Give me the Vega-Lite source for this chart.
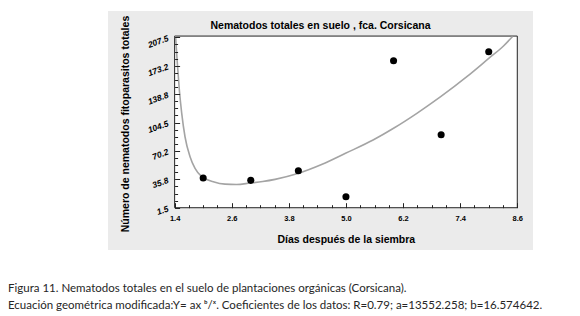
{
  "$schema": "https://vega.github.io/schema/vega-lite/v6.json",
  "background": "white",
  "padding": {"left": 8, "top": 11, "right": 0, "bottom": 0},
  "title": {
    "text": ["Figura 11. Nematodos totales en el suelo de plantaciones orgánicas (Corsicana).", "Ecuación geométrica modificada:Y= ax ᵇ/ˣ. Coeficientes de los datos: R=0.79; a=13552.258; b=16.574642."],
    "orient": "bottom", "anchor": "start", "dx": -100, "offset": 33,
    "font": "Lato", "fontSize": 11.5, "fontWeight": "normal", "color": "#262626", "lineHeight": 17, "baseline": "top"
  },
  "datasets": {
    "puntos": [
      {"x": 2, "y": 37.4},
      {"x": 3, "y": 34.6},
      {"x": 4, "y": 46.2},
      {"x": 5, "y": 14.8},
      {"x": 6, "y": 179.2},
      {"x": 7, "y": 89.7},
      {"x": 8, "y": 190.1}
    ],
    "curva": [
      {"x": 1.42, "y": 208.5},
      {"x": 1.457, "y": 176.1},
      {"x": 1.499, "y": 143.8},
      {"x": 1.549, "y": 115.6},
      {"x": 1.618, "y": 87.3},
      {"x": 1.724, "y": 63.2},
      {"x": 1.829, "y": 49.1},
      {"x": 1.969, "y": 39.0},
      {"x": 2.213, "y": 32.9},
      {"x": 2.46, "y": 30.0},
      {"x": 2.70, "y": 29.6},
      {"x": 2.98, "y": 31.3},
      {"x": 3.25, "y": 33.2},
      {"x": 3.51, "y": 35.8},
      {"x": 3.97, "y": 42.5},
      {"x": 4.5, "y": 54.0},
      {"x": 4.99, "y": 67.3},
      {"x": 5.57, "y": 83.3},
      {"x": 6.0, "y": 97.5},
      {"x": 6.49, "y": 115.6},
      {"x": 6.99, "y": 135.7},
      {"x": 7.54, "y": 159.9},
      {"x": 8.0, "y": 182.0},
      {"x": 8.31, "y": 197.0},
      {"x": 8.5, "y": 208.5}
    ]
  },
  "vconcat": [
    {
      "width": 425,
      "height": 239,
      "title": {
        "text": "Nematodos  totales en suelo , fca. Corsicana",
        "offset": -20, "anchor": "middle",
        "font": "Liberation Sans", "fontSize": 10.5, "fontWeight": "bold", "color": "black"
      },
      "layer": [
        {
          "data": {"values": [{}]},
          "mark": {"type": "rect", "fill": "white", "stroke": "#222222", "strokeWidth": 1},
          "encoding": {
            "x": {
              "datum": 1.4, "type": "quantitative",
              "scale": {"domain": [0, 8.93], "nice": false, "zero": false},
              "axis": {
                "title": "Días después de la siembra",
                "orient": "bottom", "offset": -42.3, "domain": false, "grid": false, "zindex": 1,
                "values": [1.4, 1.7, 2, 2.3, 2.6, 2.9, 3.2, 3.5, 3.8, 4.1, 4.4, 4.7, 5, 5.3, 5.6, 5.9, 6.2, 6.5, 6.8, 7.1, 7.4, 7.7, 8, 8.3, 8.6],
                "tickSize": {"condition": {"test": "indexof([1.4,2.6,3.8,5,6.2,7.4,8.6], datum.value) >= 0", "value": -5}, "value": -3},
                "tickColor": "#222222", "tickWidth": 1,
                "labelExpr": "indexof([1.4,2.6,3.8,5,6.2,7.4,8.6], datum.value) >= 0 ? format(datum.value, '.1f') : ''",
                "labelFont": "Liberation Sans", "labelFontSize": 7.5, "labelFontWeight": "bold", "labelColor": "black",
                "labelPadding": 11.6, "labelFlush": false, "labelOverlap": false,
                "titleFont": "Liberation Sans", "titleFontSize": 10.5, "titleFontWeight": "bold", "titleColor": "black",
                "titleX": 237.8, "titleY": 32, "titleBaseline": "middle", "titleAlign": "center"
              }
            },
            "x2": {"datum": 8.6},
            "y": {
              "datum": 1.5, "type": "quantitative",
              "scale": {"domain": [-49.6, 239.3], "nice": false, "zero": false},
              "axis": {
                "title": "Número de nematodos fitoparasitos totales",
                "orient": "left", "offset": -66.6, "domain": false, "grid": false, "zindex": 1,
                "values": [1.5, 10.08, 18.67, 27.25, 35.83, 44.42, 53, 61.58, 70.17, 78.75, 87.33, 95.92, 104.5, 113.08, 121.67, 130.25, 138.83, 147.42, 156, 164.58, 173.17, 181.75, 190.33, 198.92, 207.5],
                "tickSize": {"condition": {"test": "indexof([1.5,35.83,70.17,104.5,138.83,173.17,207.5], datum.value) >= 0", "value": -5}, "value": -3},
                "tickColor": "#222222", "tickWidth": 1,
                "labelExpr": "indexof([1.5,35.83,70.17,104.5,138.83,173.17,207.5], datum.value) >= 0 ? format(datum.value, '.1f') : ''",
                "labelFont": "Liberation Sans", "labelFontSize": 8.5, "labelFontWeight": "bold", "labelFontStyle": "italic", "labelColor": "black",
                "labelAngle": -20, "labelAlign": "right", "labelBaseline": "middle",
                "labelPadding": 12, "labelFlush": false, "labelOverlap": false,
                "titleFont": "Liberation Sans", "titleFontSize": 10.5, "titleFontWeight": "bold", "titleColor": "black",
                "titleX": -49.6, "titleY": 112.5, "titleAngle": -90, "titleBaseline": "middle", "titleAlign": "center"
              }
            },
            "y2": {"datum": 209}
          }
        },
        {
          "data": {"name": "curva"},
          "mark": {"type": "line", "color": "#a4a4a4", "strokeWidth": 1.6, "interpolate": "monotone"},
          "encoding": {
            "x": {
              "field": "x", "type": "quantitative",
              "scale": {"domain": [0, 8.93], "nice": false, "zero": false},
              "axis": {
                "title": "Días después de la siembra",
                "orient": "bottom", "offset": -42.3, "domain": false, "grid": false, "zindex": 1,
                "values": [1.4, 1.7, 2, 2.3, 2.6, 2.9, 3.2, 3.5, 3.8, 4.1, 4.4, 4.7, 5, 5.3, 5.6, 5.9, 6.2, 6.5, 6.8, 7.1, 7.4, 7.7, 8, 8.3, 8.6],
                "tickSize": {"condition": {"test": "indexof([1.4,2.6,3.8,5,6.2,7.4,8.6], datum.value) >= 0", "value": -5}, "value": -3},
                "tickColor": "#222222", "tickWidth": 1,
                "labelExpr": "indexof([1.4,2.6,3.8,5,6.2,7.4,8.6], datum.value) >= 0 ? format(datum.value, '.1f') : ''",
                "labelFont": "Liberation Sans", "labelFontSize": 7.5, "labelFontWeight": "bold", "labelColor": "black",
                "labelPadding": 11.6, "labelFlush": false, "labelOverlap": false,
                "titleFont": "Liberation Sans", "titleFontSize": 10.5, "titleFontWeight": "bold", "titleColor": "black",
                "titleX": 237.8, "titleY": 32, "titleBaseline": "middle", "titleAlign": "center"
              }
            },
            "y": {
              "field": "y", "type": "quantitative",
              "scale": {"domain": [-49.6, 239.3], "nice": false, "zero": false},
              "axis": {
                "title": "Número de nematodos fitoparasitos totales",
                "orient": "left", "offset": -66.6, "domain": false, "grid": false, "zindex": 1,
                "values": [1.5, 10.08, 18.67, 27.25, 35.83, 44.42, 53, 61.58, 70.17, 78.75, 87.33, 95.92, 104.5, 113.08, 121.67, 130.25, 138.83, 147.42, 156, 164.58, 173.17, 181.75, 190.33, 198.92, 207.5],
                "tickSize": {"condition": {"test": "indexof([1.5,35.83,70.17,104.5,138.83,173.17,207.5], datum.value) >= 0", "value": -5}, "value": -3},
                "tickColor": "#222222", "tickWidth": 1,
                "labelExpr": "indexof([1.5,35.83,70.17,104.5,138.83,173.17,207.5], datum.value) >= 0 ? format(datum.value, '.1f') : ''",
                "labelFont": "Liberation Sans", "labelFontSize": 8.5, "labelFontWeight": "bold", "labelFontStyle": "italic", "labelColor": "black",
                "labelAngle": -20, "labelAlign": "right", "labelBaseline": "middle",
                "labelPadding": 12, "labelFlush": false, "labelOverlap": false,
                "titleFont": "Liberation Sans", "titleFontSize": 10.5, "titleFontWeight": "bold", "titleColor": "black",
                "titleX": -49.6, "titleY": 112.5, "titleAngle": -90, "titleBaseline": "middle", "titleAlign": "center"
              }
            }
          }
        },
        {
          "data": {"name": "puntos"},
          "mark": {"type": "circle", "color": "black", "opacity": 1, "size": 50},
          "encoding": {
            "x": {
              "field": "x", "type": "quantitative",
              "scale": {"domain": [0, 8.93], "nice": false, "zero": false},
              "axis": {
                "title": "Días después de la siembra",
                "orient": "bottom", "offset": -42.3, "domain": false, "grid": false, "zindex": 1,
                "values": [1.4, 1.7, 2, 2.3, 2.6, 2.9, 3.2, 3.5, 3.8, 4.1, 4.4, 4.7, 5, 5.3, 5.6, 5.9, 6.2, 6.5, 6.8, 7.1, 7.4, 7.7, 8, 8.3, 8.6],
                "tickSize": {"condition": {"test": "indexof([1.4,2.6,3.8,5,6.2,7.4,8.6], datum.value) >= 0", "value": -5}, "value": -3},
                "tickColor": "#222222", "tickWidth": 1,
                "labelExpr": "indexof([1.4,2.6,3.8,5,6.2,7.4,8.6], datum.value) >= 0 ? format(datum.value, '.1f') : ''",
                "labelFont": "Liberation Sans", "labelFontSize": 7.5, "labelFontWeight": "bold", "labelColor": "black",
                "labelPadding": 11.6, "labelFlush": false, "labelOverlap": false,
                "titleFont": "Liberation Sans", "titleFontSize": 10.5, "titleFontWeight": "bold", "titleColor": "black",
                "titleX": 237.8, "titleY": 32, "titleBaseline": "middle", "titleAlign": "center"
              }
            },
            "y": {
              "field": "y", "type": "quantitative",
              "scale": {"domain": [-49.6, 239.3], "nice": false, "zero": false},
              "axis": {
                "title": "Número de nematodos fitoparasitos totales",
                "orient": "left", "offset": -66.6, "domain": false, "grid": false, "zindex": 1,
                "values": [1.5, 10.08, 18.67, 27.25, 35.83, 44.42, 53, 61.58, 70.17, 78.75, 87.33, 95.92, 104.5, 113.08, 121.67, 130.25, 138.83, 147.42, 156, 164.58, 173.17, 181.75, 190.33, 198.92, 207.5],
                "tickSize": {"condition": {"test": "indexof([1.5,35.83,70.17,104.5,138.83,173.17,207.5], datum.value) >= 0", "value": -5}, "value": -3},
                "tickColor": "#222222", "tickWidth": 1,
                "labelExpr": "indexof([1.5,35.83,70.17,104.5,138.83,173.17,207.5], datum.value) >= 0 ? format(datum.value, '.1f') : ''",
                "labelFont": "Liberation Sans", "labelFontSize": 8.5, "labelFontWeight": "bold", "labelFontStyle": "italic", "labelColor": "black",
                "labelAngle": -20, "labelAlign": "right", "labelBaseline": "middle",
                "labelPadding": 12, "labelFlush": false, "labelOverlap": false,
                "titleFont": "Liberation Sans", "titleFontSize": 10.5, "titleFontWeight": "bold", "titleColor": "black",
                "titleX": -49.6, "titleY": 112.5, "titleAngle": -90, "titleBaseline": "middle", "titleAlign": "center"
              }
            }
          }
        }
      ]
    }
  ],
  "config": {
    "view": {"fill": "#ebebeb", "stroke": null}
  }
}
